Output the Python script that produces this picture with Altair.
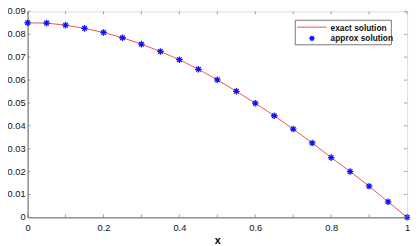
import altair as alt
import pandas as pd

xs = [0.0, 0.05, 0.1, 0.15, 0.2, 0.25, 0.3, 0.35, 0.4, 0.45, 0.5,
      0.55, 0.6, 0.65, 0.7, 0.75, 0.8, 0.85, 0.9, 0.95, 1.0]
approx = [0.0850, 0.0849, 0.0840, 0.0826, 0.0808, 0.0785, 0.0757, 0.0725,
          0.0689, 0.0647, 0.0601, 0.0551, 0.0499, 0.0444, 0.0386, 0.0325,
          0.0261, 0.0200, 0.0136, 0.0068, 0.0]
exact = approx[:]
x_ticks = [0, 0.1, 0.2, 0.3, 0.4, 0.5, 0.6, 0.7, 0.8, 0.9, 1]
y_ticks = [0, 0.01, 0.02, 0.03, 0.04, 0.05, 0.06, 0.07, 0.08, 0.09]
y_tick_labels = ["0", "0.01", "0.02", "0.03", "0.04", "0.05", "0.06", "0.07",
                 "0.08", "0.09"]
legend_labels = ["exact solution", "approx solution"]

OX, OY = 28, 9
W, H = 387, 219 - OY
FONT = "Liberation Sans"
ASTER = "M-1,0L1,0M0,-1L0,1M-0.7,-0.7L0.7,0.7M-0.7,0.7L0.7,-0.7"

df = pd.DataFrame({"x": xs, "exact": exact, "approx": approx})
xsc = alt.Scale(domain=[0, 1], nice=False, zero=False)
ysc = alt.Scale(domain=[0, 0.09], nice=False, zero=False)

xaxis = alt.Axis(values=x_ticks, ticks=False, grid=False, labelFont=FONT,
                 labelFontSize=9.5, labelColor="#111", labelPadding=5,
                 domainColor="#666", title="x", titleFont=FONT, titleFontSize=11,
                 titleFontWeight="bold", titlePadding=3, labelFlush=False,
                 labelOverlap=False, labelBound=False, format=".1~f")
yaxis = alt.Axis(ticks=False, grid=False, labels=False, domainColor="#666",
                 title=None)

line = alt.Chart(df).mark_line(color="#e8413a", strokeWidth=0.9).encode(
    x=alt.X("x:Q", scale=xsc, axis=xaxis),
    y=alt.Y("exact:Q", scale=ysc, axis=yaxis),
)
pts = alt.Chart(df).mark_point(shape=ASTER, filled=False, color="#1010ff",
                               strokeWidth=1.3, size=45, opacity=1).encode(
    x=alt.X("x:Q", scale=xsc),
    y=alt.Y("approx:Q", scale=ysc),
)

xt = pd.DataFrame({"t": x_ticks})
yt = pd.DataFrame({"t": y_ticks, "lab": y_tick_labels})
tick_c = "#888"
tb = alt.Chart(xt).mark_rule(color=tick_c, strokeWidth=0.8).encode(
    x=alt.X("t:Q", scale=xsc), y=alt.value(H), y2=alt.value(H - 3))
tt = alt.Chart(xt).mark_rule(color=tick_c, strokeWidth=0.8).encode(
    x=alt.X("t:Q", scale=xsc), y=alt.value(0), y2=alt.value(3))
tl = alt.Chart(yt).mark_rule(color=tick_c, strokeWidth=0.8).encode(
    y=alt.Y("t:Q", scale=ysc), x=alt.value(0), x2=alt.value(3))
tr = alt.Chart(yt).mark_rule(color=tick_c, strokeWidth=0.8).encode(
    y=alt.Y("t:Q", scale=ysc), x=alt.value(W), x2=alt.value(W - 3))
ylabels = alt.Chart(yt).mark_text(
    align="right", baseline="middle", font=FONT, fontSize=9.5, color="#111"
).encode(y=alt.Y("t:Q", scale=ysc), x=alt.value(-2), text="lab:N")

# legend (page coords minus plot origin)
box = alt.Chart(pd.DataFrame({"a": [0]})).mark_rect(
    fill="white", stroke="#555", strokeWidth=0.8).encode(
    x=alt.value(301 - OX), x2=alt.value(399 - OX),
    y=alt.value(18 - OY), y2=alt.value(43 - OY))
lline = alt.Chart(pd.DataFrame({"a": [0]})).mark_rule(
    color="#e8413a", strokeWidth=0.9).encode(
    x=alt.value(303 - OX), x2=alt.value(333 - OX), y=alt.value(25 - OY))
lpt = alt.Chart(pd.DataFrame({"a": [0]})).mark_point(
    shape=ASTER, filled=False, color="#1010ff", strokeWidth=1.3, size=30,
    opacity=1).encode(x=alt.value(318 - OX), y=alt.value(36.5 - OY))
ltxt1 = alt.Chart(pd.DataFrame({"t": [legend_labels[0]]})).mark_text(
    align="left", baseline="middle", font=FONT, fontSize=8.5, fontWeight="bold",
    color="#111").encode(x=alt.value(337 - OX), y=alt.value(25.5 - OY), text="t:N")
ltxt2 = alt.Chart(pd.DataFrame({"t": [legend_labels[1]]})).mark_text(
    align="left", baseline="middle", font=FONT, fontSize=8.5, fontWeight="bold",
    color="#111").encode(x=alt.value(337 - OX), y=alt.value(36.5 - OY), text="t:N")

chart = alt.layer(line, pts, tb, tt, tl, tr, ylabels, box, lline, lpt,
                  ltxt1, ltxt2).properties(
    width=W, height=H,
    autosize=alt.AutoSizeParams(type="none"),
    padding={"left": OX - 8, "top": OY - 8, "right": 3, "bottom": 40},
).configure_view(stroke="#aaa", strokeWidth=0.8, clip=False).configure(
    background="white")

chart.save("out.html", embed_options={"renderer": "svg", "actions": False})
